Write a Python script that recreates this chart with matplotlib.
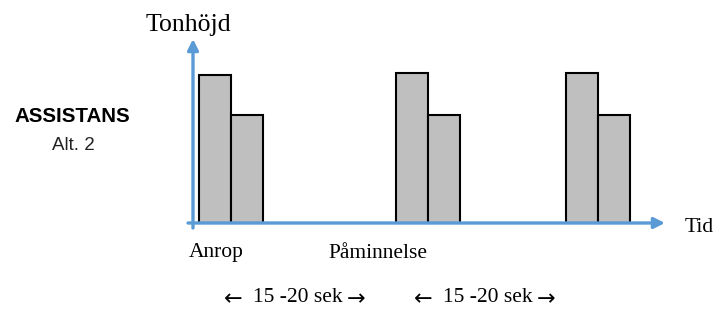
import matplotlib.pyplot as plt

# Tone bursts: each signal is a high tone followed by a lower tone
group_labels = ['Anrop', 'Påminnelse']
high_tone = [148, 150, 150]
low_tone = [108, 108, 108]
interval_text = ['15 -20 sek', '15 -20 sek']

# layout (pixel-like units, baseline at 0)
group_x = [199, 396, 566]
label_x = [189, 328]
interval_x = [298, 488]
bar_w = 32
blue = '#5B9BD5'
serif = ['Liberation Serif', 'DejaVu Serif']

fig = plt.figure(figsize=(7.22, 3.11), dpi=100)
ax = fig.add_axes([0, 0, 1, 1])
ax.set_xlim(0, 722)
ax.set_ylim(-88, 223)
ax.axis('off')

for x0, hi, lo in zip(group_x, high_tone, low_tone):
    ax.bar(x0, hi, width=bar_w, align='edge', color='#BFBFBF',
           edgecolor='black', linewidth=1.5, zorder=2)
    ax.bar(x0 + bar_w, lo, width=bar_w, align='edge', color='#BFBFBF',
           edgecolor='black', linewidth=1.5, zorder=2)

# axes as arrows
ax.annotate('', xy=(193, 184), xytext=(193, -5),
            arrowprops=dict(arrowstyle='-|>', color=blue, lw=2.4,
                            mutation_scale=16, shrinkA=0, shrinkB=0), zorder=3)
ax.annotate('', xy=(665, 0), xytext=(188, 0),
            arrowprops=dict(arrowstyle='-|>', color=blue, lw=2.4,
                            mutation_scale=16, shrinkA=0, shrinkB=0), zorder=3)

ax.text(188, 223 - 25, 'Tonhöjd', family=serif, fontsize=18.5,
        ha='center', va='center')
ax.text(685, 223 - 227, 'Tid', family=serif, fontsize=15.5,
        ha='left', va='center')

ax.text(72, 223 - 117, 'ASSISTANS', family='Liberation Sans', fontweight='bold',
        fontsize=14.8, ha='center', va='center')
ax.text(73, 223 - 146, 'Alt. 2', family='Liberation Sans', fontsize=13.5,
        ha='center', va='center', color='#222222')

for x0, lab in zip(label_x, group_labels):
    ax.text(x0, 223 - 253, lab, family=serif, fontsize=15.5,
            ha='left', va='center')

for xc, lab in zip(interval_x, interval_text):
    ax.text(xc, 223 - 298, lab, family=serif, fontsize=15.5,
            ha='center', va='center')
    ax.text(xc - 65, 223 - 299, '\u2190', family='DejaVu Sans', fontsize=16,
            ha='center', va='center')
    ax.text(xc + 58, 223 - 299, '\u2192', family='DejaVu Sans', fontsize=16,
            ha='center', va='center')

fig.savefig('out.png', dpi=100)
